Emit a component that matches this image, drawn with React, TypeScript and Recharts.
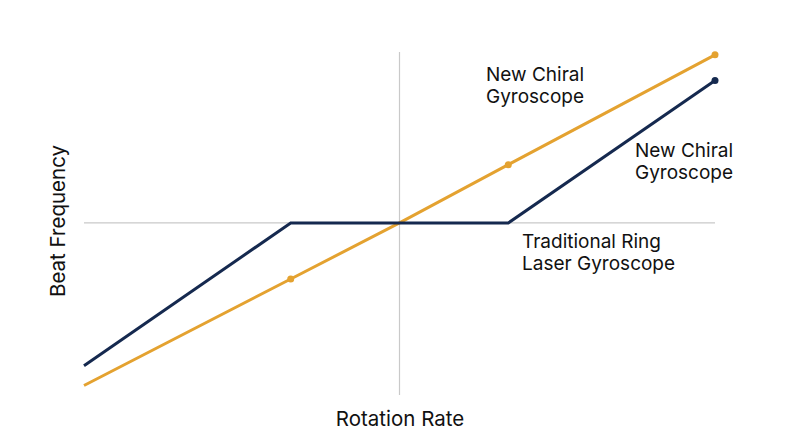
import React from 'react';
import { LineChart, Line, XAxis, YAxis, ReferenceLine } from 'recharts';

const rotationRate = [-2.9, -1, 0, 1, 2.9];
const chiralBeat = [-2.9, -1, 0, 1.04, 3.0];
const ringLaserBeat = [-2.55, 0, 0, 0, 2.54];
const chiralDots = [false, true, false, true, true];
const ringLaserDots = [false, false, false, false, true];

const NAVY = '#15294f';
const GOLD = '#e4a230';
const FONT = 'Inter, "Noto Sans", sans-serif';

const data = rotationRate.map((x, i) => ({
  x,
  chiral: chiralBeat[i],
  ring: ringLaserBeat[i],
}));

function makeDot(flags: boolean[], color: string) {
  return (props: any) => {
    const { cx, cy, index } = props;
    if (!flags[index]) return <g key={`d-${index}`} />;
    return <circle key={`d-${index}`} cx={cx} cy={cy} r={3.5} fill={color} stroke="none" />;
  };
}

const label = (left: number, top: number, lines: string[], size = 19) => (
  <div
    style={{
      position: 'absolute',
      left,
      top,
      fontFamily: FONT,
      fontSize: size,
      lineHeight: '22px',
      color: '#111',
      whiteSpace: 'nowrap',
    }}
  >
    {lines.map((l) => (
      <div key={l}>{l}</div>
    ))}
  </div>
);

export default function App() {
  return (
    <div style={{ position: 'absolute', left: 0, top: 0, width: 800, height: 447, background: '#fff' }}>
      <LineChart width={800} height={447} data={data} margin={{ top: 52, right: 85, bottom: 52, left: 84 }}>
        <XAxis dataKey="x" type="number" domain={[-2.9, 2.9]} hide />
        <YAxis type="number" domain={[-3.07, 3.05]} hide />
        <ReferenceLine x={0} stroke="#c9c9c9" strokeWidth={1.2} />
        <ReferenceLine y={0} stroke="#c9c9c9" strokeWidth={1.2} />
        <Line
          dataKey="chiral"
          stroke={GOLD}
          strokeWidth={3}
          dot={makeDot(chiralDots, GOLD)}
          activeDot={false}
          isAnimationActive={false}
        />
        <Line
          dataKey="ring"
          stroke={NAVY}
          strokeWidth={3}
          dot={makeDot(ringLaserDots, NAVY)}
          activeDot={false}
          isAnimationActive={false}
        />
      </LineChart>
      {label(486, 64, ['New Chiral', 'Gyroscope'])}
      {label(635, 140, ['New Chiral', 'Gyroscope'])}
      {label(522, 231, ['Traditional Ring', 'Laser Gyroscope'])}
      <div
        style={{
          position: 'absolute',
          left: 400,
          top: 406,
          transform: 'translateX(-50%)',
          fontFamily: FONT,
          fontSize: 20.5,
          color: '#111',
          whiteSpace: 'nowrap',
        }}
      >
        Rotation Rate
      </div>
      <div
        style={{
          position: 'absolute',
          left: 57,
          top: 221,
          transform: 'translate(-50%, -50%) rotate(-90deg)',
          fontFamily: FONT,
          fontSize: 20.5,
          color: '#111',
          whiteSpace: 'nowrap',
        }}
      >
        Beat Frequency
      </div>
    </div>
  );
}
